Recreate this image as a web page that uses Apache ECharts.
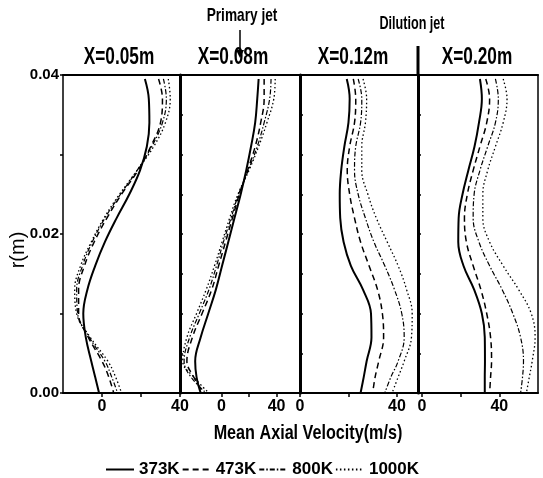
<!DOCTYPE html>
<html>
<head>
<meta charset="utf-8">
<script src="https://cdn.jsdelivr.net/npm/echarts@6/dist/echarts.min.js"></script>
<style>html,body{margin:0;padding:0;background:#fff}#c{width:543px;height:478px}</style>
</head>
<body>
<div id="c"></div>
<script>
// ---- data ----
var temps = ['373K', '473K', '800K', '1000K'];
var panelTitles = ['X=0.05m', 'X=0.08m', 'X=0.12m', 'X=0.20m'];
var rValues = [0.0395, 0.037, 0.034, 0.031, 0.028, 0.025, 0.022, 0.019, 0.016, 0.013, 0.010, 0.007, 0.004, 0.002, 0.000];
var yTickLabels = ['0.00', '0.02', '0.04'];
var xTickLabelValues = [0, 40];
var xMinorTickValues = [0, 20, 40];

// velocity profiles (m/s) per panel, per temperature, matching rValues
var p1_373 = [22, 24, 24.3, 23, 19.5, 14, 7.5, 1.5, -3.5, -7.5, -9.6, -8.3, -5.5, -3.5, -1.5];
var p1_473 = [29, 31, 30, 25, 18.5, 10, 2.5, -4, -9, -12, -12, -7, 0, 3.5, 6];
var p1_800 = [31.5, 33, 31, 25.5, 18, 9.5, 1.5, -5, -10, -13, -12.5, -6.5, 1.5, 5, 8];
var p1_1000 = [34, 35, 32.5, 26.5, 18, 9, 1, -5.5, -11, -14, -13, -6, 3, 7, 10];

var p2_373 = [27, 26, 24.5, 21.5, 18, 14, 9.5, 5, 0.5, -4, -9.5, -15, -19, -18, -15];
var p2_473 = [31, 31, 28.5, 24.5, 19, 13, 8, 3, -2, -7, -14, -21, -25, -20, -13];
var p2_800 = [36, 35, 31, 26, 19.5, 12.5, 7, 1.5, -3.5, -9, -16, -23, -27, -22, -11];
var p2_1000 = [39, 38, 33, 27, 20, 12, 6, 0.5, -5, -11, -18, -25, -28, -20, -9];

var p3_373 = [19.3, 20.5, 20, 18.3, 17, 16.4, 16.6, 18, 21, 26, 29.3, 29.5, 27.5, 26.3, 25];
var p3_473 = [22, 23, 22.5, 20.5, 19.5, 20.5, 22.5, 25, 28.5, 32, 34, 34.5, 32.5, 31, 30];
var p3_800 = [24, 25.5, 25, 23, 22.5, 24, 27, 30.5, 35, 39, 42, 43, 40.5, 37.5, 35];
var p3_1000 = [26, 27.5, 27, 25.5, 25.5, 28, 31.5, 36, 40.5, 44, 46.3, 46, 43, 40.5, 38];

var p4_373 = [30, 31, 29.5, 27.2, 24, 21, 19, 18.8, 21.5, 27, 31, 32.5, 32.6, 32.5, 32.5];
var p4_473 = [33, 35, 33.5, 30, 26.5, 23.5, 22, 23, 26.5, 30.5, 33.5, 35.5, 36, 35.5, 35];
var p4_800 = [38, 39.5, 38, 34, 30, 27, 26.5, 29.5, 35, 41.5, 47, 51, 52.5, 52, 51];
var p4_1000 = [42, 44, 42, 38, 34, 31.5, 31.5, 35, 42, 50, 56.5, 58.5, 57, 55.5, 54];

var panels = [
  [p1_373, p1_473, p1_800, p1_1000],
  [p2_373, p2_473, p2_800, p2_1000],
  [p3_373, p3_473, p3_800, p3_1000],
  [p4_373, p4_473, p4_800, p4_1000]
];

// ---- layout / style ----
var FONT = '"Liberation Sans", Arial, sans-serif';
var grids = [
  {left: 63, width: 117},
  {left: 180, width: 120},
  {left: 300, width: 118},
  {left: 418, width: 120}
];
var xRanges = [[-20, 40], [-30, 57], [0, 48.7], [-2, 60]];
var styles = [
  {type: 'solid', width: 2},
  {type: [6, 4], width: 1.5},
  {type: [5, 2, 1.5, 2], width: 1.2},
  {type: [1.5, 2.5], width: 1.3}
];

var option = {
  backgroundColor: '#fff',
  animation: false,
  grid: grids.map(function (g) { return {left: g.left, width: g.width, top: 75, height: 318}; }),
  xAxis: [],
  yAxis: [],
  series: [],
  legend: {
    data: temps,
    left: 100, top: 456,
    itemWidth: 28, itemHeight: 6, itemGap: 2,
    itemStyle: {opacity: 0, borderWidth: 0},
    textStyle: {fontFamily: FONT, fontSize: 17, color: '#000', fontWeight: 'bold'}
  },
  graphic: []
};

for (var i = 0; i < 4; i++) {
  option.xAxis.push({
    gridIndex: i, type: 'value', min: xRanges[i][0], max: xRanges[i][1],
    axisLine: {show: true, onZero: false, lineStyle: {color: '#000', width: 2}},
    axisTick: {show: true, customValues: xMinorTickValues, length: 4, lineStyle: {color: '#000', width: 1.5}},
    axisLabel: {show: true, customValues: xTickLabelValues, margin: 6, color: '#000',
      fontFamily: FONT, fontSize: 16, fontWeight: 'bold'},
    splitLine: {show: false}
  });
  option.xAxis.push({
    gridIndex: i, type: 'value', position: 'top', min: xRanges[i][0], max: xRanges[i][1],
    axisLine: {show: true, onZero: false, lineStyle: {color: '#000', width: 2}},
    axisTick: {show: false}, axisLabel: {show: false}, splitLine: {show: false}
  });
  option.yAxis.push({
    gridIndex: i, type: 'value', min: 0, max: 0.04, interval: i === 0 ? 0.01 : 0.005,
    axisLine: {show: true, onZero: false, lineStyle: {color: '#000', width: i === 0 ? 1.5 : 3}},
    axisTick: {show: true, inside: i !== 0, length: 3, lineStyle: {color: '#000', width: 1.5}},
    axisLabel: {show: i === 0, interval: 1, margin: 4, color: '#000', fontFamily: FONT, fontSize: 15, fontWeight: 'bold',
      formatter: function (v) { var s = v.toFixed(2); return yTickLabels.indexOf(s) >= 0 ? s : ''; }},
    splitLine: {show: false}
  });
}
option.yAxis.push({
  gridIndex: 3, type: 'value', position: 'right', min: 0, max: 0.04,
  axisLine: {show: true, onZero: false, lineStyle: {color: '#000', width: 1.5}},
  axisTick: {show: false}, axisLabel: {show: false}, splitLine: {show: false}
});

for (var p = 0; p < 4; p++) {
  for (var t = 0; t < 4; t++) {
    var vals = panels[p][t];
    option.series.push({
      name: temps[t], type: 'line', xAxisIndex: p * 2, yAxisIndex: p,
      data: vals.map(function (v, k) { return [v, rValues[k]]; }),
      smooth: 0.4, symbol: 'none', showSymbol: false,
      lineStyle: {color: '#000', type: styles[t].type, width: styles[t].width},
      itemStyle: {color: '#000'}
    });
  }
}

function txt(s, x, y, size, sx, rot, weight) {
  return {type: 'text', x: x, y: y, rotation: rot || 0, scaleX: sx || 1, z: 10,
    style: {text: s, fill: '#000', font: (weight || 'bold') + ' ' + size + 'px ' + FONT,
      textAlign: 'center', textVerticalAlign: 'middle', align: 'center', verticalAlign: 'middle'}};
}
var titleX = [119, 233, 353, 477];
for (var k = 0; k < 4; k++) option.graphic.push(txt(panelTitles[k], titleX[k], 58, 23, 0.75));
option.graphic.push(txt('Primary jet', 242, 16, 19, 0.72));
option.graphic.push(txt('Dilution jet', 412, 24, 18, 0.7));
option.graphic.push(txt('Mean Axial Velocity(m/s)', 308, 433, 21, 0.77));
option.graphic.push(txt('r(m)', 18, 250, 20, 1, Math.PI / 2, 'normal'));
option.graphic.push({type: 'line', z: 10, shape: {x1: 240, y1: 30, x2: 240, y2: 52}, style: {stroke: '#000', lineWidth: 1.5}});
option.graphic.push({type: 'polygon', z: 10, shape: {points: [[236, 50], [244, 50], [240, 58]]}, style: {fill: '#000'}});
option.graphic.push({type: 'line', z: 10, shape: {x1: 418, y1: 46, x2: 418, y2: 75}, style: {stroke: '#000', lineWidth: 3}});

var chart = echarts.init(document.getElementById('c'), null, {renderer: 'canvas'});
chart.setOption(option);
</script>
</body>
</html>
